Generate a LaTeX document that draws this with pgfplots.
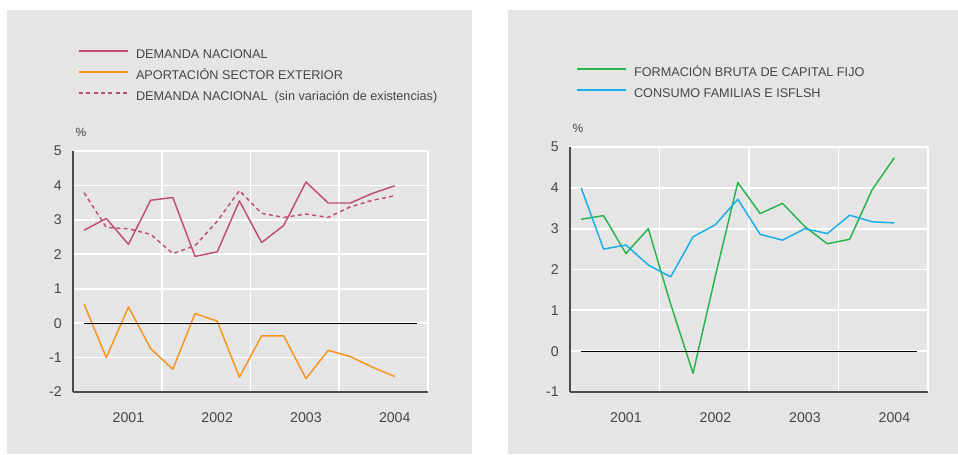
\documentclass[border=0pt]{standalone}
\usepackage{pgfplots}
\pgfplotsset{compat=1.18}
\usepackage{fontspec}
\setmainfont{Liberation Sans}

\definecolor{panel}{RGB}{229,229,229}
\definecolor{txt}{RGB}{70,70,70}
\definecolor{demanda}{RGB}{190,80,110}
\definecolor{exterior}{RGB}{247,148,29}
\definecolor{fbcf}{RGB}{40,180,75}
\definecolor{consumo}{RGB}{25,175,230}

\pgfplotsset{
  panelaxis/.style={
    scale only axis,
    xmin=-0.5, xmax=15.5,
    axis x line*=bottom, axis y line*=left,
    axis line style={draw=black!70, line width=0.9pt},
    xtick={2,6,10,14},
    xticklabels={2001,2002,2003,2004},
    minor xtick={3.5,7.5,11.5,15.5},
    xminorgrids=true, ymajorgrids=true,
    major grid style={white, line width=1.3pt},
    minor grid style={white, line width=1.3pt},
    major tick length=0pt, minor tick length=0pt,
    tick label style={font=\fontsize{10.6}{12}\selectfont, text=txt},
    yticklabel style={inner sep=0pt, xshift=-8.25pt},
    xticklabel style={inner sep=0pt, yshift=-15pt},
    legend cell align=left,
    legend image code/.code={\draw[#1] (0pt,3.3pt) -- (37pt,3.3pt);},
    legend style={draw=none, fill=none, inner sep=0pt,
      font=\fontsize{9.5}{11}\selectfont, text=txt,
      nodes={inner sep=0pt, text height=7pt, text depth=2pt},
      row sep=6.75pt,
      /tikz/every odd column/.append style={column sep=5.25pt},
      anchor=north west},
    every axis plot/.append style={line width=1.1pt, line join=round},
  }
}

\begin{document}
\begin{tikzpicture}
\fill[white] (0pt,0pt) rectangle (718.5pt,-340.5pt);
\fill[panel] (5.25pt,-7.5pt) rectangle (354pt,-340.5pt);
\fill[panel] (381pt,-7.5pt) rectangle (718.5pt,-340.5pt);

\node[anchor=center, text=txt, font=\fontsize{9}{10}\selectfont] at (60.75pt,-99pt) {\%};
\node[anchor=center, text=txt, font=\fontsize{9}{10}\selectfont] at (433.5pt,-96pt) {\%};

\begin{axis}[panelaxis,
  at={(54.75pt,-294pt)}, anchor=south west,
  width=266.25pt, height=180.75pt,
  ymin=-2, ymax=5, ytick={-2,-1,0,1,2,3,4,5},
  yticklabels={-2,-1,0,1,2,3,4,5},
  legend style={at={(0.014,1.422)}},
]
\addplot[demanda] coordinates {
  (0,2.70) (1,3.04) (2,2.29) (3,3.57) (4,3.65) (5,1.94) (6,2.07) (7,3.55)
  (8,2.34) (9,2.84) (10,4.10) (11,3.49) (12,3.49) (13,3.77) (14,3.99)};
\addlegendentry{DEMANDA NACIONAL}
\addplot[exterior] coordinates {
  (0,0.55) (1,-1.00) (2,0.47) (3,-0.74) (4,-1.34) (5,0.28) (6,0.06) (7,-1.57)
  (8,-0.37) (9,-0.37) (10,-1.61) (11,-0.79) (12,-0.97) (13,-1.28) (14,-1.55)};
\addlegendentry{APORTACIÓN SECTOR EXTERIOR}
\addplot[demanda, dash pattern=on 3pt off 2.5pt] coordinates {
  (0,3.79) (1,2.78) (2,2.74) (3,2.58) (4,2.02) (5,2.25) (6,2.96) (7,3.85)
  (8,3.19) (9,3.07) (10,3.17) (11,3.07) (12,3.38) (13,3.57) (14,3.70)};
\addlegendentry{DEMANDA NACIONAL\ \ (sin variación de existencias)}
\addplot[black, line width=0.7pt, forget plot] coordinates {(0,0) (15,0)};
\end{axis}

\begin{axis}[panelaxis,
  at={(427.5pt,-294pt)}, anchor=south west,
  width=268.5pt, height=183.75pt,
  ymin=-1, ymax=5, ytick={-1,0,1,2,3,4,5},
  yticklabels={-1,0,1,2,3,4,5},
  legend style={at={(0.0168,1.3257)}},
]
\addplot[fbcf] coordinates {
  (0,3.23) (1,3.32) (2,2.39) (3,3.00) (4,1.15) (5,-0.54) (6,1.85) (7,4.13)
  (8,3.37) (9,3.62) (10,3.05) (11,2.63) (12,2.74) (13,3.95) (14,4.74)};
\addlegendentry{FORMACIÓN BRUTA DE CAPITAL FIJO}
\addplot[consumo] coordinates {
  (0,4.00) (1,2.50) (2,2.60) (3,2.11) (4,1.82) (5,2.80) (6,3.10) (7,3.72)
  (8,2.86) (9,2.72) (10,3.00) (11,2.88) (12,3.33) (13,3.17) (14,3.14)};
\addlegendentry{CONSUMO FAMILIAS E ISFLSH}
\addplot[black, line width=0.7pt, forget plot] coordinates {(0,0) (15,0)};
\end{axis}
\end{tikzpicture}
\end{document}
